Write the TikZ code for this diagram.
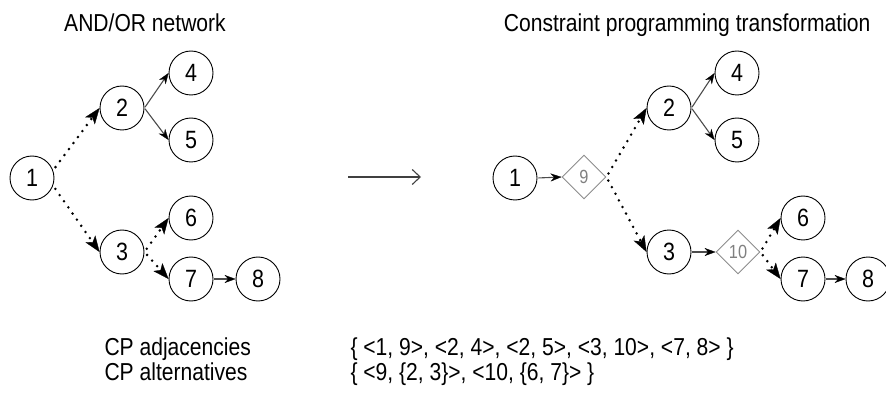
\documentclass[tikz,border=0pt]{standalone}
\usepackage{fontspec}
\setmainfont{Liberation Sans}[FakeStretch=0.86]
\usetikzlibrary{arrows.meta,shapes.geometric}
\begin{document}
\begin{tikzpicture}[x=1pt,y=-1pt,
  every node/.style={font=\fontsize{24.5}{28}\selectfont},
  nd/.style={circle,draw=black,line width=0.9pt,minimum size=44pt,inner sep=0pt,font=\fontsize{25}{28}\selectfont},
  dm/.style={diamond,draw=black!45,line width=0.9pt,minimum width=44pt,minimum height=44pt,inner sep=0pt,text=black!50,font=\fontsize{19}{22}\selectfont},
  solidarr/.style={draw=black!70,line width=1.1pt,-{Stealth[length=11pt,width=8pt,line width=0.3pt,color=black,fill=black]},shorten <=1pt},
  dotarr/.style={draw=black,line width=2.8pt,line cap=round,dash pattern=on 0pt off 7.5pt,-{Stealth[length=16pt,width=12pt,inset=4pt,line width=0.3pt]},shorten <=4pt},
  lbl/.style={anchor=base west}
]
\useasboundingbox (0,0) rectangle (886,398);
% titles
\node[anchor=base] (t1) at (145,32) {AND/OR network};
\node[anchor=base east] (t2) at (874,32) {Constraint programming transformation};
% left network
\node[nd] (a1) at (32,178) {1};
\node[nd] (a2) at (122,108) {2};
\node[nd] (a4) at (191,73) {4};
\node[nd] (a5) at (191,140) {5};
\node[nd] (a3) at (122,252) {3};
\node[nd] (a6) at (191,218) {6};
\node[nd] (a7) at (191,279) {7};
\node[nd] (a8) at (258,279) {8};
\draw[dotarr] (a1.20) -- (a2.west);
\draw[dotarr] (a1.-20) -- (a3.west);
\draw[solidarr] (a2.east) -- (a4.west);
\draw[solidarr] (a2.east) -- (a5.west);
\draw[dotarr] (a3.east) -- (a6.west);
\draw[dotarr] (a3.east) -- (a7.west);
\draw[solidarr] (a7.east) -- (a8.west);
% transformation arrow
\coordinate (ta) at (348,177);
\coordinate (tb) at (421,177);
\draw[draw=black!75,line width=1.1pt,-{Straight Barb[length=8pt,width=15pt]}] (ta) -- (tb);
% right network
\node[nd] (b1) at (515,178) {1};
\node[dm] (b9) at (584,177) {9};
\node[nd] (b2) at (669,108) {2};
\node[nd] (b4) at (737,73) {4};
\node[nd] (b5) at (737,140) {5};
\node[nd] (b3) at (669,252) {3};
\node[dm] (b10) at (738,252) {10};
\node[nd] (b6) at (803,218) {6};
\node[nd] (b7) at (803,279) {7};
\node[nd] (b8) at (868,279) {8};
\draw[solidarr] (b1.east) -- (b9.west);
\draw[dotarr] (b9.east) -- (b2.west);
\draw[dotarr] (b9.east) -- (b3.west);
\draw[solidarr] (b2.east) -- (b4.west);
\draw[solidarr] (b2.east) -- (b5.west);
\draw[solidarr] (b3.east) -- (b10.west);
\draw[dotarr] (b10.east) -- (b6.west);
\draw[dotarr] (b10.east) -- (b7.west);
\draw[solidarr] (b7.east) -- (b8.west);
% bottom text
\node[lbl] (l1) at (101,355) {CP adjacencies};
\node[lbl] (l2) at (101,380) {CP alternatives};
\node[lbl] (v1) at (347,355) {\{ <1, 9>, <2, 4>, <2, 5>, <3, 10>, <7, 8> \}};
\node[lbl] (v2) at (347,380) {\{ <9, \{2, 3\}>, <10, \{6, 7\}> \}};
\end{tikzpicture}
\end{document}
